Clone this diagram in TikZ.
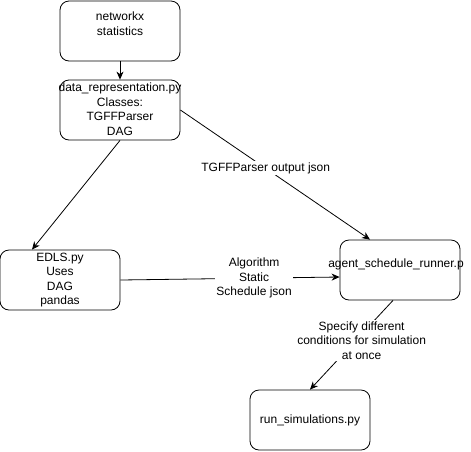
\documentclass[tikz,border=0pt]{standalone}
\usepackage{fontspec}
\setmainfont{Liberation Sans}
\usetikzlibrary{arrows.meta, positioning}

\tikzset{
  box/.style={draw, rounded corners=9pt, minimum width=120pt, minimum height=60pt, inner sep=0pt},
  txt/.style={align=center, inner sep=0pt},
  lbl/.style={fill=white, align=center, inner sep=1.5pt},
}

\begin{document}
\begin{tikzpicture}[x=1pt, y=-1pt, >={Stealth[length=8pt, width=7pt, inset=2.5pt]},
    font=\fontsize{12}{14.5}\selectfont, line width=0.8pt]
  \useasboundingbox (0,0) rectangle (471,451);

  \node[box, label={[txt]center:networkx\\statistics\\~}] (net) at (120,31) {};
  \node[box, label={[txt, yshift=1pt]center:data\_representation.py\\Classes:\\TGFFParser\\DAG}] (data) at (120,110) {};
  \node[box, label={[txt]center:EDLS.py\\Uses\\DAG\\pandas}] (edls) at (60,280) {};
  \node[box, label={[txt, xshift=-4pt]center:agent\_schedule\_runner.p\\~}] (agent) at (400,270) {};
  \node[box, label={[txt]center:run\_simulations.py}] (run) at (310,420) {};

  \draw[->] (net) -- (data);
  \draw[->] (data.south) -- ([xshift=-28pt]edls.north);
  \draw[->] (data.east) -- ([xshift=-30pt]agent.north) node[lbl, pos=0.45] {TGFFParser output json};
  \draw[->] (edls.east) -- ([yshift=-7pt]agent.west) node[lbl, pos=0.61] {Algorithm\\Static\\Schedule json};
  \draw[->] ([xshift=-7pt]agent.south) -- (run.north) node[lbl, pos=0.45, xshift=6pt] {Specify different\\conditions for simulation\\at once};
\end{tikzpicture}
\end{document}
